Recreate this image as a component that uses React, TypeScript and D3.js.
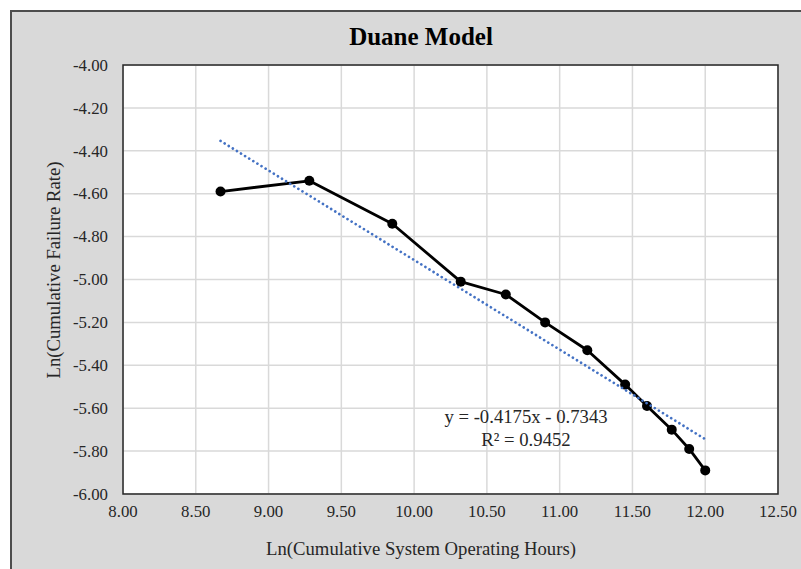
import React from "react";
import * as d3 from "d3";

const xValues = [8.67, 9.28, 9.85, 10.32, 10.63, 10.9, 11.19, 11.45, 11.6, 11.77, 11.89, 12.0];
const yValues = [-4.59, -4.54, -4.74, -5.01, -5.07, -5.2, -5.33, -5.49, -5.59, -5.7, -5.79, -5.89];
const xTicks = [8.0, 8.5, 9.0, 9.5, 10.0, 10.5, 11.0, 11.5, 12.0, 12.5];
const yTicks = [-4.0, -4.2, -4.4, -4.6, -4.8, -5.0, -5.2, -5.4, -5.6, -5.8, -6.0];
const trendSlope = -0.4175;
const trendIntercept = -0.7343;
const equationLines = ["y = -0.4175x - 0.7343", "R² = 0.9452"];
const titleText = "Duane Model";
const xTitle = "Ln(Cumulative System Operating Hours)";
const yTitle = "Ln(Cumulative Failure Rate)";

const W = 801;
const H = 569;
const plot = { left: 123, right: 778, top: 65, bottom: 494 };
const font = "'Liberation Serif', 'Times New Roman', serif";
const textColor = "#262626";

export default function App() {
  const x = d3.scaleLinear().domain([8, 12.5]).range([plot.left, plot.right]);
  const y = d3.scaleLinear().domain([-6, -4]).range([plot.bottom, plot.top]);
  const pts = xValues.map((v, i) => [v, yValues[i]] as [number, number]);
  const line = d3
    .line<[number, number]>()
    .x((d) => x(d[0]))
    .y((d) => y(d[1]));
  const xMin = d3.min(xValues)!;
  const xMax = d3.max(xValues)!;
  const trend: [number, number][] = [
    [xMin, trendSlope * xMin + trendIntercept],
    [xMax, trendSlope * xMax + trendIntercept],
  ];
  const cx = 421;
  return (
    <svg
      width={W}
      height={H}
      style={{ position: "fixed", left: 0, top: 0 }}
      fontFamily={font}
    >
      <rect x={0} y={0} width={W} height={H} fill="#ffffff" />
      <rect x={11} y={11} width={W + 20} height={H + 20} fill="#d9d9d9" stroke="#4d4d4d" strokeWidth={2} />
      <rect
        x={plot.left}
        y={plot.top}
        width={plot.right - plot.left}
        height={plot.bottom - plot.top}
        fill="#ffffff"
      />
      {xTicks.map((t) => (
        <line key={"gx" + t} x1={x(t)} x2={x(t)} y1={plot.top} y2={plot.bottom} stroke="#d9d9d9" strokeWidth={1.5} />
      ))}
      {yTicks.map((t) => (
        <line key={"gy" + t} x1={plot.left} x2={plot.right} y1={y(t)} y2={y(t)} stroke="#d9d9d9" strokeWidth={1.5} />
      ))}
      <rect
        x={plot.left}
        y={plot.top}
        width={plot.right - plot.left}
        height={plot.bottom - plot.top}
        fill="none"
        stroke="#262626"
        strokeWidth={1.5}
      />
      <path d={line(pts)!} fill="none" stroke="#000000" strokeWidth={2.8} strokeLinejoin="round" />
      {pts.map((p, i) => (
        <circle key={i} cx={x(p[0])} cy={y(p[1])} r={5} fill="#000000" />
      ))}
      <path
        d={line(trend)!}
        fill="none"
        stroke="#4472c4"
        strokeWidth={2.7}
        strokeDasharray="0.01 4.8"
        strokeLinecap="round"
      />
      {xTicks.map((t) => (
        <text key={"tx" + t} x={x(t)} y={517} textAnchor="middle" fontSize={16.8} fill={textColor}>
          {t.toFixed(2)}
        </text>
      ))}
      {yTicks.map((t) => (
        <text key={"ty" + t} x={108} y={y(t) + 5.7} textAnchor="end" fontSize={16.8} fill={textColor}>
          {t.toFixed(2)}
        </text>
      ))}
      <text x={cx} y={45} textAnchor="middle" fontSize={25} fontWeight="bold" fill="#000000">
        {titleText}
      </text>
      <text x={cx} y={555} textAnchor="middle" fontSize={18.7} fill={textColor}>
        {xTitle}
      </text>
      <text
        transform={`translate(60, 270) rotate(-90)`}
        textAnchor="middle"
        fontSize={18.7}
        fill={textColor}
      >
        {yTitle}
      </text>
      {equationLines.map((l, i) => (
        <text key={l} x={526} y={423 + i * 23} textAnchor="middle" fontSize={18.7} fill={textColor}>
          {l}
        </text>
      ))}
    </svg>
  );
}
